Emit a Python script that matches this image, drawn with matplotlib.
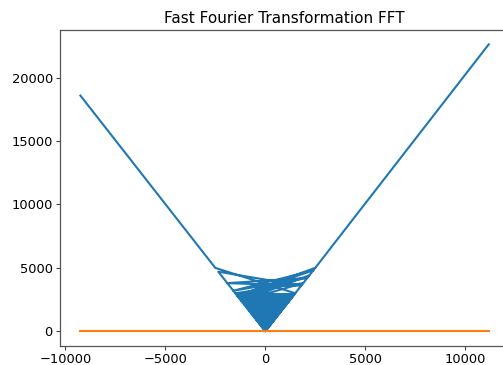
import matplotlib
matplotlib.use("Agg")
import matplotlib.pyplot as plt


# Data (frequency vs. magnitude)

# blue trace: left arm, edges of the V, crossing chords, dense zig-zag, right arm
freq = [-9250, -2500, 1500, 0, -2350, 1800, -1900, 2100, -1600, 2400,
        -1400, 2500, -1300, 2200, -1200, 1900, -1500,
        1450, -1420, 1380, -1350, 1310, -1270, 1240, -1200, 1160, -1120,
        1090, -1050, 1010, -970, 940, -900, 860, -820, 790, -750,
        710, -680, 640, -600, 560, -530, 490, -450, 410, -380,
        340, -300, 260, -230, 190, -150, 110, -80, 40, 0,
        2550, 11185]
magnitude = [18580, 5000, 3000, 0, 4700, 3600, 3800, 4200, 3200, 4800,
             2800, 5000, 2600, 4400, 2400, 3800, 3000,
             2900, 2840, 2760, 2700, 2620, 2540, 2480, 2400, 2320, 2240,
             2180, 2100, 2020, 1940, 1880, 1800, 1720, 1640, 1580, 1500,
             1420, 1360, 1280, 1200, 1120, 1060, 980, 900, 820, 760,
             680, 600, 520, 460, 380, 300, 220, 160, 80, 0,
             5100, 22620]

# orange trace: flat at zero over the same frequency span
freq_flat = [-9250, 11185]
phase = [0, 0]

x_ticks = [-10000, -5000, 0, 5000, 10000]
y_ticks = [0, 5000, 10000, 15000, 20000]


# Plot

fig = plt.figure(figsize=(5.03, 3.65), dpi=100)
ax = fig.add_axes([0.1193, 0.0529, 0.893, 0.865])

ax.plot(freq, magnitude, color="#1f77b4", linewidth=1.5)
ax.plot(freq_flat, phase, color="#ff7f0e", linewidth=1.5)

ax.set_xticks(x_ticks)
ax.set_yticks(y_ticks)
ax.tick_params(labelsize=9.4, length=3, width=0.8, pad=2.2, color="#444444")
for spine in ax.spines.values():
    spine.set_color("#555555")
    spine.set_linewidth(0.9)

ax.set_title("Fast Fourier Transformation FFT", fontsize=11, pad=5)

fig.savefig("out.png", dpi=100)
plt.close(fig)
